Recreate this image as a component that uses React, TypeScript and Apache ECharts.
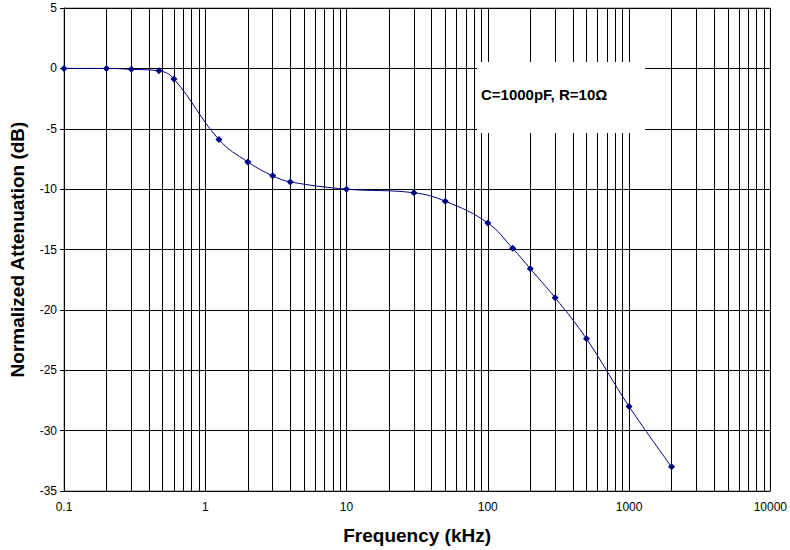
import React, { useEffect, useRef } from "react";
import * as echarts from "echarts";

const freqKHz = [0.1, 0.2, 0.3, 0.47, 0.6, 1.25, 2, 3, 4, 10, 30, 50, 100, 150, 200, 300, 500, 1000, 2000];
const attenuationDb = [0, 0, -0.08, -0.2, -0.87, -5.9, -7.75, -8.9, -9.4, -10, -10.3, -11, -12.8, -14.9, -16.6, -19, -22.4, -28, -33];
const decades = [0.1, 1, 10, 100, 1000];
const minorMultiples = [2, 3, 4, 5, 6, 7, 8, 9];
const yTicks = { min: -35, max: 5, interval: 5 };
const annotation = "C=1000pF, R=10\u03a9";

const FONT = "'Liberation Sans', Arial, sans-serif";

export default function App() {
  const ref = useRef<HTMLDivElement>(null);
  useEffect(() => {
    document.body.style.margin = "0";
    if (!ref.current) return;
    const chart = echarts.init(ref.current, undefined, { renderer: "svg" });
    const minorLines: { xAxis: number }[] = [];
    decades.forEach((d) => minorMultiples.forEach((m) => minorLines.push({ xAxis: +(d * m).toPrecision(6) })));
    chart.setOption({
      animation: false,
      backgroundColor: "#fff",
      grid: { left: 62, right: 15, top: 8, bottom: 55, show: true, borderColor: "#808080", borderWidth: 1 },
      xAxis: {
        type: "log",
        logBase: 10,
        min: 0.1,
        max: 10000,
        name: "Frequency (kHz)",
        nameLocation: "middle",
        nameGap: 35,
        nameTextStyle: { fontFamily: FONT, fontSize: 19, fontWeight: "bold", color: "#000" },
        axisLine: { show: true, lineStyle: { color: "#000", width: 1 } },
        axisTick: { show: true, inside: false, length: 4, lineStyle: { color: "#000" } },
        axisLabel: {
          fontFamily: FONT,
          fontSize: 12,
          color: "#000",
          margin: 10,
          formatter: (v: number) => String(+v.toPrecision(6)),
        },
        splitLine: { show: true, lineStyle: { color: "#000", width: 1 } },
        minorTick: { show: false },
      },
      yAxis: {
        type: "value",
        min: yTicks.min,
        max: yTicks.max,
        interval: yTicks.interval,
        name: "Normalized Attenuation (dB)",
        nameLocation: "middle",
        nameGap: 37,
        nameTextStyle: { fontFamily: FONT, fontSize: 19, fontWeight: "bold", color: "#000" },
        axisLine: { show: true, lineStyle: { color: "#000", width: 1 } },
        axisTick: { show: true, inside: false, length: 4, lineStyle: { color: "#000" } },
        axisLabel: { fontFamily: FONT, fontSize: 12, color: "#000", margin: 7 },
        splitLine: { show: true, lineStyle: { color: "#000", width: 1 } },
      },
      series: [
        {
          type: "line",
          data: freqKHz.map((f, i) => [f, attenuationDb[i]]),
          smooth: 0.4,
          symbol: "diamond",
          symbolSize: 7,
          showSymbol: true,
          itemStyle: { color: "#000080" },
          lineStyle: { color: "#000080", width: 1 },
          z: 5,
          markLine: {
            silent: true,
            symbol: "none",
            label: { show: false },
            lineStyle: { color: "#000", width: 1, type: "solid" },
            emphasis: { disabled: true },
            data: minorLines,
            z: 1,
          },
        },
      ],
      graphic: [
        {
          type: "rect",
          z: 100,
          shape: { x: 477, y: 62, width: 168, height: 71 },
          style: { fill: "#fff", stroke: "none" },
        },
        {
          type: "text",
          z: 101,
          x: 481,
          y: 94,
          style: {
            text: annotation,
            fontFamily: FONT,
            fontSize: 15,
            fontWeight: "bold",
            fill: "#000",
            verticalAlign: "middle",
            align: "left",
          },
        },
      ],
    });
    return () => chart.dispose();
  }, []);
  return <div ref={ref} style={{ width: 790, height: 550 }} />;
}
